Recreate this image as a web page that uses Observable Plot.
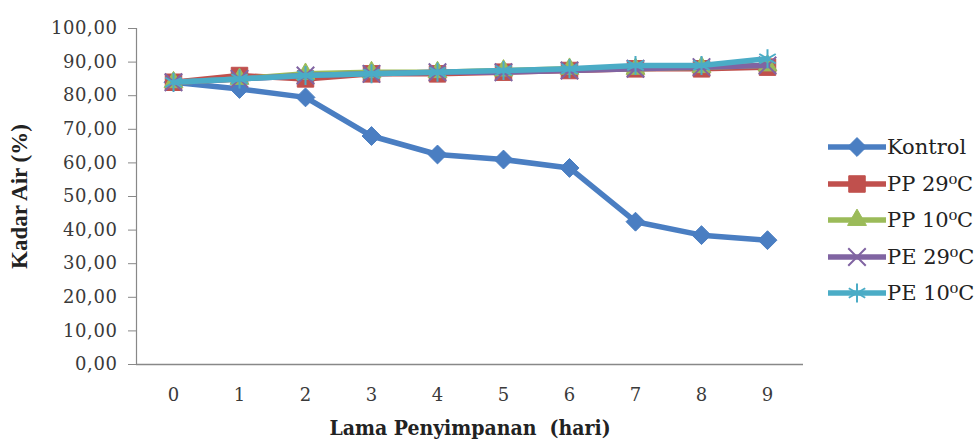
<!DOCTYPE html>
<html><head><meta charset="utf-8">
<script src="https://cdn.jsdelivr.net/npm/d3@7"></script>
<script src="https://cdn.jsdelivr.net/npm/@observablehq/plot@0.6"></script>
<style>
body{margin:0;background:#fff;}
#wrap{position:relative;width:978px;height:442px;overflow:hidden;}
#legend{position:absolute;left:828px;top:129px;font-family:"DejaVu Serif",serif;font-size:21px;color:#222;white-space:nowrap;}
.item{display:flex;align-items:center;height:36.5px;}
.item span{margin-left:1px;}
g[aria-label="y-axis tick label"] text{letter-spacing:0.6px;}
</style></head><body>
<div id="wrap"><div id="chart"></div><div id="legend"></div></div>
<script>
const days = [0,1,2,3,4,5,6,7,8,9];
const seriesNames = ["Kontrol","PP 29⁰C","PP 10⁰C","PE 29⁰C","PE 10⁰C"];
const kontrol = [84,82,79.5,68,62.5,61,58.5,42.5,38.5,37];
const pp29 = [84,86,85,86.5,86.5,87,87.5,88,88,88.5];
const pp10 = [84,85,86.5,87,87,87.5,88,88,88.5,89];
const pe29 = [84,85,86,86.5,87,87,87.5,88,88.5,89];
const pe10 = [84,85,86,86.5,87,87.5,88,89,89,91];
const yTicks = [0,10,20,30,40,50,60,70,80,90,100];

const colors = ["#4A7EC2","#C0504D","#9BBB59","#8064A2","#4BACC6"];
const symbols = ["diamond2","square2","triangle2","times","asterisk"];
const sizes = [8.5,10.5,9,8,9];
const all = [kontrol,pp29,pp10,pe29,pe10];
const data = [];
all.forEach((vals,i)=>vals.forEach((v,j)=>data.push({s:seriesNames[i],i,day:days[j],v})));

const marks = [
  Plot.frame({anchor:"left",stroke:"#888",strokeWidth:1.2}),
  Plot.ruleY([0],{stroke:"#888",strokeWidth:1.5}),
  Plot.axisY({ticks:yTicks,tickFormat:d=>d.toFixed(2).replace(".",","),label:"Kadar Air (%)",labelAnchor:"center",labelArrow:"none",tickSize:8,tickPadding:11,stroke:"#888",fill:"#3a3a3a",fontSize:18,labelOffset:126}),
  Plot.axisX({tickSize:0,tickPadding:24,label:"Lama Penyimpanan  (hari)",labelAnchor:"center",labelArrow:"none",labelOffset:70,fontSize:18,fill:"#3a3a3a"})
];
all.forEach((vals,i)=>{
  const d = data.filter(r=>r.i===i);
  marks.push(Plot.line(d,{x:"day",y:"v",stroke:colors[i],strokeWidth:5.5}));
  const filled = symbols[i]!=="times" && symbols[i]!=="asterisk";
  marks.push(Plot.dot(d,{x:"day",y:"v",symbol:()=>symbols[i],r:sizes[i],
    fill: filled?colors[i]:"none", stroke:colors[i], strokeWidth: filled?1:2}));
});

const chart = Plot.plot({
  width:978,height:442,
  marginLeft:136,marginRight:175,marginTop:28,marginBottom:78,
  style:{fontFamily:"DejaVu Serif, serif",fontSize:"17px",background:"#fff"},
  x:{type:"point",domain:days,padding:0.5},
  y:{domain:[0,100]},
  symbol:{type:"identity"},
  marks
});
document.getElementById("chart").appendChild(chart);
const svg = d3.select(chart);
svg.select("[aria-label='y-axis label'] text").style("font-family","Liberation Serif, serif").style("font-size","23px").style("font-weight","bold").attr("fill","#222");
svg.select("[aria-label='x-axis label'] text").style("font-family","DejaVu Serif Condensed, DejaVu Serif, serif").style("font-size","21px").style("font-weight","bold").attr("fill","#222");

// legend
const symMap = {diamond2:d3.symbolDiamond2,square2:d3.symbolSquare2,triangle2:d3.symbolTriangle2,times:d3.symbolTimes,asterisk:d3.symbolAsterisk};
const lg = document.getElementById("legend");
seriesNames.forEach((n,i)=>{
  const div = document.createElement("div"); div.className="item";
  const filled = symbols[i]!=="times" && symbols[i]!=="asterisk";
  const sym = d3.symbol(symMap[symbols[i]], Math.PI*sizes[i]*sizes[i])();
  div.innerHTML = `<svg width="58" height="26"><line x1="0" x2="58" y1="13" y2="13" stroke="${colors[i]}" stroke-width="5.5"/><path transform="translate(29,13)" d="${sym}" fill="${filled?colors[i]:'none'}" stroke="${colors[i]}" stroke-width="${filled?1:2}"/></svg><span>${n}</span>`;
  lg.appendChild(div);
});
</script></body></html>
